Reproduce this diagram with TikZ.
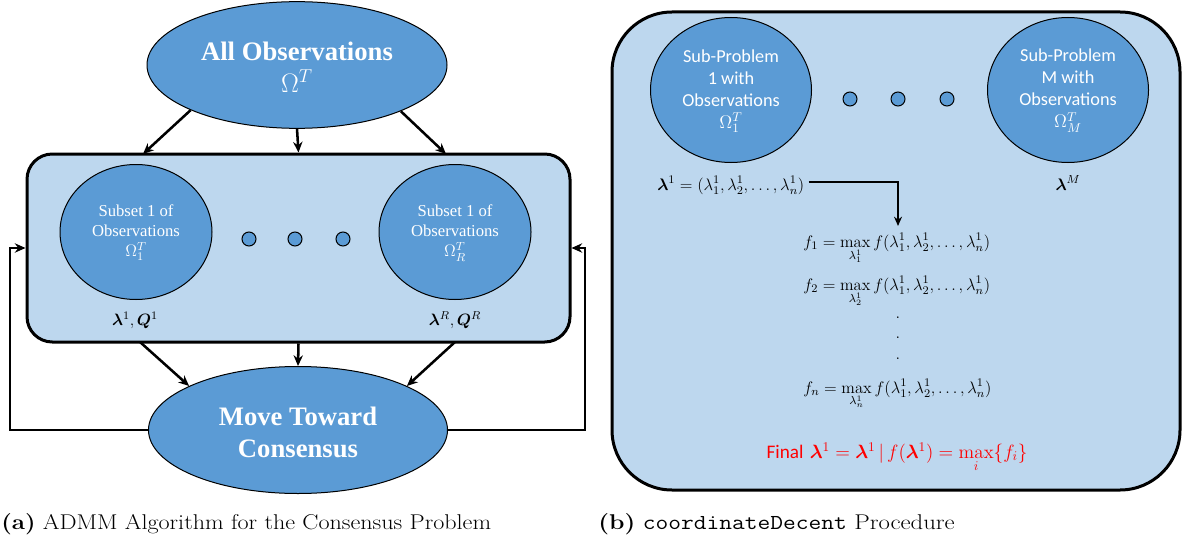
\RequirePackage{fix-cm}
\documentclass[tikz,border=0pt]{standalone}
\usepackage{amsmath}
\usepackage{bm}
\usepackage{graphicx}
\usepackage{fontspec}
\usetikzlibrary{shapes.geometric,arrows.meta}
\newfontfamily\tnrfont{Liberation Serif}
\newfontfamily\calibrifont{Carlito}
\definecolor{nodeblue}{RGB}{91,155,213}
\definecolor{paneblue}{RGB}{189,215,238}
\definecolor{finalred}{RGB}{255,0,0}
\tikzset{
  blob/.style={ellipse, draw=black, line width=0.75pt, fill=nodeblue, inner sep=0pt},
  pane/.style={draw=black, line width=2.25pt, fill=paneblue, rounded corners=#1, inner sep=0pt},
  dotnode/.style={circle, draw=black, line width=0.75pt, fill=nodeblue, minimum size=10.5pt, inner sep=0pt},
  arr/.style={line width=1.9pt, -{Stealth[length=8pt,width=7pt]}},
  bigtext/.style={text=white, font=\tnrfont\bfseries\fontsize{20}{24}\selectfont, align=center, inner sep=0pt},
  subtext/.style={text=white, font=\tnrfont\fontsize{12.5}{15}\selectfont, align=center, inner sep=0pt},
  sptext/.style={text=white, font=\calibrifont\fontsize{13.7}{16.5}\selectfont, align=center, inner sep=0pt},
  varlbl/.style={font=\fontsize{12.3}{15}\selectfont, inner sep=0pt, anchor=base},
  mathlbl/.style={font=\fontsize{12.5}{15}\selectfont, inner sep=0pt},
  captext/.style={font=\fontsize{16}{20}\selectfont, inner sep=0pt, anchor=base west},
}
\begin{document}
\begin{tikzpicture}[x=0.75pt,y=-0.75pt]
\useasboundingbox (0,0) rectangle (1188,542);

% ---------- (a) ADMM consensus loop ----------
\node[blob, minimum width=225pt, minimum height=95pt] (allobs) at (297,65) {};
\node[bigtext] (allobstxt) at (297,67) {All Observations\\$\Omega^{T}$};

\node[pane=19pt, minimum width=407.25pt, minimum height=141pt] (box) at (298.5,248) {};

\node[blob, minimum width=114pt, minimum height=101.25pt] (sub1) at (136,232) {};
\node[subtext] (sub1txt) at (136,233) {Subset 1 of\\Observations\\$\Omega_{1}^{T}$};
\node[blob, minimum width=114pt, minimum height=101.25pt] (subR) at (455,232) {};
\node[subtext] (subRtxt) at (455,233) {Subset 1 of\\Observations\\$\Omega_{R}^{T}$};

\node[dotnode] (da1) at (249,239) {};
\node[dotnode] (da2) at (295,239) {};
\node[dotnode] (da3) at (343,239) {};

\node[varlbl] (lq1) at (135,325) {$\bm{\lambda}^{1},\bm{Q}^{1}$};
\node[varlbl] (lqR) at (455,325) {$\bm{\lambda}^{R},\bm{Q}^{R}$};

\node[blob, minimum width=224.25pt, minimum height=95.25pt] (move) at (298,430) {};
\node[bigtext] (movetxt) at (298,432) {Move Toward\\Consensus};

% points where the arrows meet the pane
\coordinate (inL) at (143,154);
\coordinate (inR) at (446,154);
\coordinate (outL) at (140,342);
\coordinate (outR) at (455,342);
\coordinate (fbL) at (10,430);
\coordinate (fbR) at (585,430);

\draw[arr] (allobs.203) -- (inL);
\draw[arr] (allobs.south) -- (box.north);
\draw[arr] (allobs.336) -- (inR);

\draw[arr] (outL) -- (move.158);
\draw[arr] (box.south) -- (move.north);
\draw[arr] (outR) -- (move.22);

\draw[arr] (move.west) -- (fbL) |- (box.west);
\draw[arr] (move.east) -- (fbR) |- (box.east);

% ---------- (b) coordinate descent ----------
\node[pane=45pt, minimum width=426pt, minimum height=358.5pt] (rbox) at (896,251) {};

\node[blob, minimum width=120.75pt, minimum height=108.75pt] (sp1) at (731,90) {};
\node[sptext] (sp1txt) at (731,91) {Sub-Problem\\1 with\\Observations\\$\Omega_{1}^{T}$};
\node[blob, minimum width=120.75pt, minimum height=108.75pt] (spM) at (1068,90) {};
\node[sptext] (spMtxt) at (1068,91) {Sub-Problem\\M with\\Observations\\$\Omega_{M}^{T}$};

\node[dotnode] (db1) at (850,99) {};
\node[dotnode] (db2) at (898,99) {};
\node[dotnode] (db3) at (947,99) {};

\node[mathlbl, anchor=base west] (lam1) at (657,190)
  {$\bm{\lambda}^{1} = (\lambda_{1}^{1},\lambda_{2}^{1},\ldots,\lambda_{n}^{1})$};
\node[mathlbl, anchor=base] (lamM) at (1068,190) {$\bm{\lambda}^{M}$};

\node[mathlbl, anchor=base west] (f1) at (803,247)
  {$f_{1} = \max\limits_{\lambda_{1}^{1}} f(\lambda_{1}^{1},\lambda_{2}^{1},\ldots,\lambda_{n}^{1})$};
\node[mathlbl, anchor=base west] (f2) at (803,290)
  {$f_{2} = \max\limits_{\lambda_{2}^{1}} f(\lambda_{1}^{1},\lambda_{2}^{1},\ldots,\lambda_{n}^{1})$};
\node[mathlbl, anchor=base] (vd1) at (898,318) {.};
\node[mathlbl, anchor=base] (vd2) at (898,338) {.};
\node[mathlbl, anchor=base] (vd3) at (898,359) {.};
\node[mathlbl, anchor=base west] (fn) at (803,393)
  {$f_{n} = \max\limits_{\lambda_{n}^{1}} f(\lambda_{1}^{1},\lambda_{2}^{1},\ldots,\lambda_{n}^{1})$};

\coordinate (f1in) at (898,226);
\draw[line width=1.9pt, -{Stealth[length=7pt,width=6pt]}]
  ([xshift=3pt,yshift=6pt]lam1.base east) -| (f1in);

\node[font=\fontsize{14.4}{18}\selectfont, inner sep=0pt, anchor=base, text=finalred] (final) at (897,458)
  {{\calibrifont Final} $\bm{\lambda}^{1} = \bm{\lambda}^{1}\,|\, f(\bm{\lambda}^{1}) = \max\limits_{i}\{f_{i}\}$};

% ---------- captions ----------
\node[captext] (capa) at (1,529)
  {\scalebox{1.13}[1]{\textbf{(a)} ADMM Algorithm for the Consensus Problem}};
\node[captext] (capb) at (598,529)
  {\scalebox{1.16}[1]{\textbf{(b)} \texttt{coordinateDecent} Procedure}};
\end{tikzpicture}
\end{document}
